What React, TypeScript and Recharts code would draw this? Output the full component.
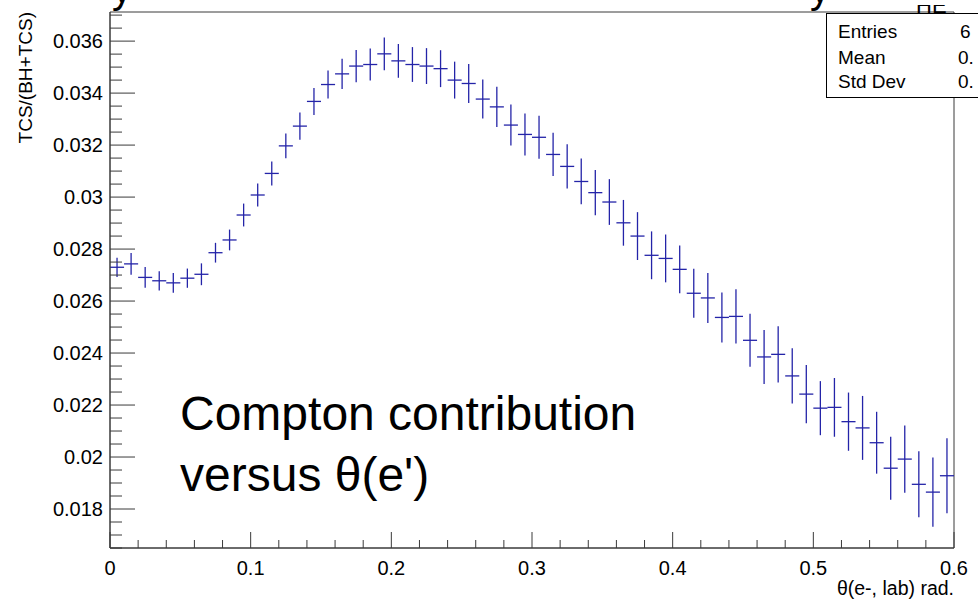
import React from "react";
import { ComposedChart, ErrorBar, ReferenceArea, Scatter, XAxis, YAxis } from "recharts";

// histogram bins (theta in rad) and TCS/(BH+TCS) per bin
const binCenters = [
  0.005, 0.015, 0.025, 0.035, 0.045, 0.055, 0.065, 0.075, 0.085, 0.095,
  0.105, 0.115, 0.125, 0.135, 0.145, 0.155, 0.165, 0.175, 0.185, 0.195,
  0.205, 0.215, 0.225, 0.235, 0.245, 0.255, 0.265, 0.275, 0.285, 0.295,
  0.305, 0.315, 0.325, 0.335, 0.345, 0.355, 0.365, 0.375, 0.385, 0.395,
  0.405, 0.415, 0.425, 0.435, 0.445, 0.455, 0.465, 0.475, 0.485, 0.495,
  0.505, 0.515, 0.525, 0.535, 0.545, 0.555, 0.565, 0.575, 0.585, 0.595,
];
const ratio = [
  0.0273, 0.02743, 0.02691, 0.02678, 0.0267, 0.02688, 0.02703, 0.02786, 0.02835, 0.02931,
  0.03008, 0.03091, 0.03197, 0.03273, 0.03368, 0.03433, 0.03474, 0.03504, 0.0351, 0.03551,
  0.03524, 0.0351, 0.03504, 0.03494, 0.0345, 0.03437, 0.03377, 0.03347, 0.03277, 0.03241,
  0.0323, 0.03164, 0.03118, 0.0306, 0.03017, 0.02981, 0.02901, 0.0285, 0.02776, 0.02764,
  0.02722, 0.0263, 0.02612, 0.02537, 0.02541, 0.02449, 0.02385, 0.02395, 0.02312, 0.02242,
  0.02188, 0.02191, 0.02136, 0.02112, 0.02055, 0.01957, 0.01992, 0.01895, 0.01865, 0.01928,
];
const ratioErr = [
  0.00037, 0.00042, 0.0004, 0.00037, 0.00038, 0.00037, 0.00042, 0.00038, 0.0004, 0.00044,
  0.00044, 0.00046, 0.00048, 0.00052, 0.00052, 0.00054, 0.00058, 0.00062, 0.00062, 0.00063,
  0.00065, 0.00067, 0.00069, 0.00071, 0.00071, 0.00075, 0.00075, 0.00077, 0.00079, 0.00081,
  0.00083, 0.00083, 0.00085, 0.00088, 0.00087, 0.00088, 0.00088, 0.00092, 0.00092, 0.00092,
  0.00092, 0.00094, 0.00096, 0.00096, 0.00104, 0.00102, 0.00104, 0.00108, 0.00106, 0.00112,
  0.00104, 0.00113, 0.00112, 0.00123, 0.00119, 0.00121, 0.00129, 0.00127, 0.00133, 0.00144,
];
const BIN_HALF = 0.005;

const xMajor = [0, 0.1, 0.2, 0.3, 0.4, 0.5, 0.6];
const yMajor = [0.018, 0.02, 0.022, 0.024, 0.026, 0.028, 0.03, 0.032, 0.034, 0.036];
const X_DOMAIN: [number, number] = [0, 0.6];
const Y_DOMAIN: [number, number] = [0.0165, 0.03712];

const FONT = "'Liberation Sans', Arial, sans-serif";
const AXIS_COLOR = "#3a3a3a";
const MARK = "#2424a8";

const data = binCenters.map((x, i) => ({ x, y: ratio[i], err: ratioErr[i], xerr: BIN_HALF }));

// ROOT-style minor ticks between the labelled ones
function withMinors(majors: number[], div: number, lo: number, hi: number) {
  const step = (majors[1] - majors[0]) / div;
  const out: number[] = [];
  for (let v = majors[0]; v >= lo - 1e-9; v -= step) out.push(+v.toFixed(6));
  for (let v = majors[0] + step; v <= hi + 1e-9; v += step) out.push(+v.toFixed(6));
  return out.sort((a, b) => a - b);
}
const xTicks = withMinors(xMajor, 5, X_DOMAIN[0], X_DOMAIN[1]);
const yTicks = withMinors(yMajor, 4, Y_DOMAIN[0], Y_DOMAIN[1]);

const isMajor = (v: number, majors: number[]) => majors.some((m) => Math.abs(m - v) < 1e-7);
const fmt = (v: number) => String(parseFloat(v.toFixed(4)));

function XTick(props: any) {
  const { x, y, payload } = props;
  const major = isMajor(payload.value, xMajor);
  return (
    <g>
      <line x1={x} x2={x} y1={y} y2={y - (major ? 16 : 8)} stroke={AXIS_COLOR} />
      {major && (
        <text x={x} y={y + 27} textAnchor="middle" fontSize={20} fontFamily={FONT} fill="#000">
          {fmt(payload.value)}
        </text>
      )}
    </g>
  );
}

function YTick(props: any) {
  const { x, y, payload } = props;
  const major = isMajor(payload.value, yMajor);
  return (
    <g>
      <line x1={x} x2={x + (major ? 25 : 12)} y1={y} y2={y} stroke={AXIS_COLOR} />
      {major && (
        <text x={x - 7} y={y + 7} textAnchor="end" fontSize={20} fontFamily={FONT} fill="#000">
          {fmt(payload.value)}
        </text>
      )}
    </g>
  );
}

export default function App() {
  return (
    <div style={{ position: "absolute", left: 0, top: 0, width: 978, height: 600, background: "#fff" }}>
      <ComposedChart width={978} height={600} data={data} margin={{ top: 12, right: 24, bottom: 0, left: 0 }}>
        <XAxis
          type="number"
          dataKey="x"
          domain={X_DOMAIN}
          ticks={xTicks}
          interval={0}
          allowDataOverflow
          height={52}
          tickSize={0}
          tickMargin={0}
          tickLine={false}
          stroke={AXIS_COLOR}
          tick={<XTick />}
        />
        <YAxis
          type="number"
          dataKey="y"
          domain={Y_DOMAIN}
          ticks={yTicks}
          interval={0}
          allowDataOverflow
          width={110}
          tickSize={0}
          tickMargin={0}
          tickLine={false}
          stroke={AXIS_COLOR}
          tick={<YTick />}
        />
        <ReferenceArea
          x1={X_DOMAIN[0]}
          x2={X_DOMAIN[1]}
          y1={Y_DOMAIN[0]}
          y2={Y_DOMAIN[1]}
          fill="none"
          stroke={AXIS_COLOR}
          strokeWidth={1}
        />
        <Scatter dataKey="y" isAnimationActive={false} shape={() => <g />}>
          <ErrorBar dataKey="err" direction="y" width={0} stroke={MARK} strokeWidth={1.3} isAnimationActive={false} />
          <ErrorBar dataKey="xerr" direction="x" width={0} stroke={MARK} strokeWidth={1.3} isAnimationActive={false} />
        </Scatter>
      </ComposedChart>
      <svg width={978} height={600} style={{ position: "absolute", left: 0, top: 0, pointerEvents: "none" }}>
        <defs>
          <clipPath id="nameClip">
            <rect x={900} y={5} width={78} height={8} />
          </clipPath>
        </defs>
        <g fontFamily={FONT} fill="#000">
          {/* cut-off title */}
          <text x={112} y={3} fontSize={40}>y</text>
          <text x={810} y={3} fontSize={40}>y</text>
          <text x={916} y={12.5} fontSize={22} clipPath="url(#nameClip)">HE</text>
          {/* stats box */}
          <rect x={826.5} y={13.5} width={200} height={84} fill="#fff" stroke="#000" />
          <text x={838} y={38} fontSize={19}>Entries</text>
          <text x={960} y={38} fontSize={19}>6</text>
          <text x={838} y={64} fontSize={19}>Mean</text>
          <text x={958} y={64} fontSize={19}>0.</text>
          <text x={838} y={88} fontSize={19}>Std Dev</text>
          <text x={958} y={88} fontSize={19}>0.</text>
          {/* axis titles */}
          <text transform="rotate(-90)" x={-12} y={32} textAnchor="end" fontSize={19}>TCS/(BH+TCS)</text>
          <text x={954} y={595} textAnchor="end" fontSize={19.5}>θ(e-, lab) rad.</text>
          {/* annotation */}
          <text x={180} y={430} fontSize={48}>Compton contribution</text>
          <text x={180} y={491} fontSize={48}>versus θ(e')</text>
        </g>
      </svg>
    </div>
  );
}
